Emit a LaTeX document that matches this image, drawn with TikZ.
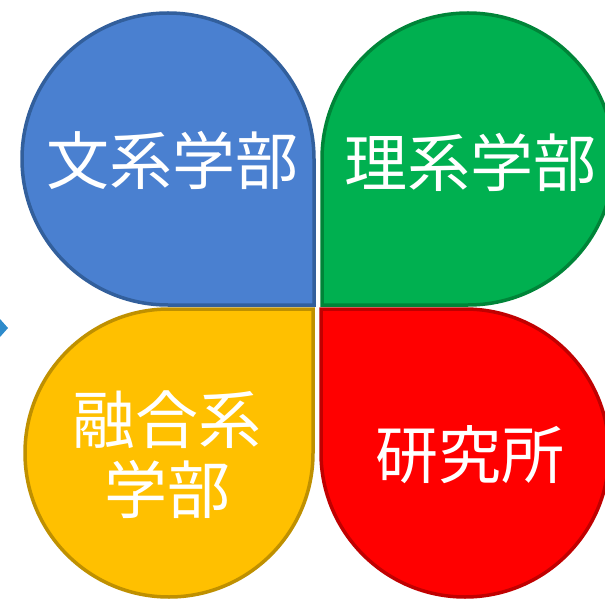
\documentclass[tikz,border=0pt]{standalone}
\usepackage{fontspec}
\newfontfamily\cjk{Noto Sans CJK JP}
\definecolor{bluefill}{HTML}{4A80D0}
\definecolor{blueline}{HTML}{325F9C}
\definecolor{greenfill}{HTML}{00B050}
\definecolor{greenline}{HTML}{008438}
\definecolor{yellowfill}{HTML}{FFC000}
\definecolor{yellowline}{HTML}{BF9000}
\definecolor{redfill}{HTML}{FF0000}
\definecolor{redline}{HTML}{C00000}
\definecolor{chev}{HTML}{2E8BCB}
\tikzset{
  petal/.style={line width=3.5pt, line join=miter},
  lbl/.style={text=white, font=\cjk\fontsize{63}{70}\selectfont, align=center, inner sep=0pt}
}
\begin{document}
\begin{tikzpicture}[x=1pt,y=1pt]
\useasboundingbox (0,0) rectangle (605,598);
\clip (0,0) rectangle (605,598);
% blue (top-left), sharp corner bottom-right
\filldraw[petal, fill=bluefill, draw=blueline]
  (314,293) -- (168,293) arc[start angle=270, end angle=0, radius=146] -- cycle;
% green (top-right), sharp corner bottom-left
\filldraw[petal, fill=greenfill, draw=greenline]
  (322,293) -- (322,439) arc[start angle=180, end angle=-90, radius=146] -- cycle;
% yellow (bottom-left), sharp corner top-right
\filldraw[petal, fill=yellowfill, draw=yellowline]
  (313,289) -- (313,145) arc[start angle=0, end angle=-270, radius=144] -- cycle;
% red (bottom-right), sharp corner top-left
\filldraw[petal, fill=redfill, draw=redline]
  (321,289) -- (465,289) arc[start angle=90, end angle=-180, radius=144] -- cycle;
% small chevron at left edge
\fill[chev] (0,279) -- (8,270) -- (0,261) -- cycle;
% labels
\node[lbl] (t1) at (172,438) {文系学部};
\node[lbl] (t2) at (470,436) {理系学部};
\node[lbl] (t3) at (167,143) {融合系\\学部};
\node[lbl] (t4) at (470,143) {研究所};
\end{tikzpicture}
\end{document}
